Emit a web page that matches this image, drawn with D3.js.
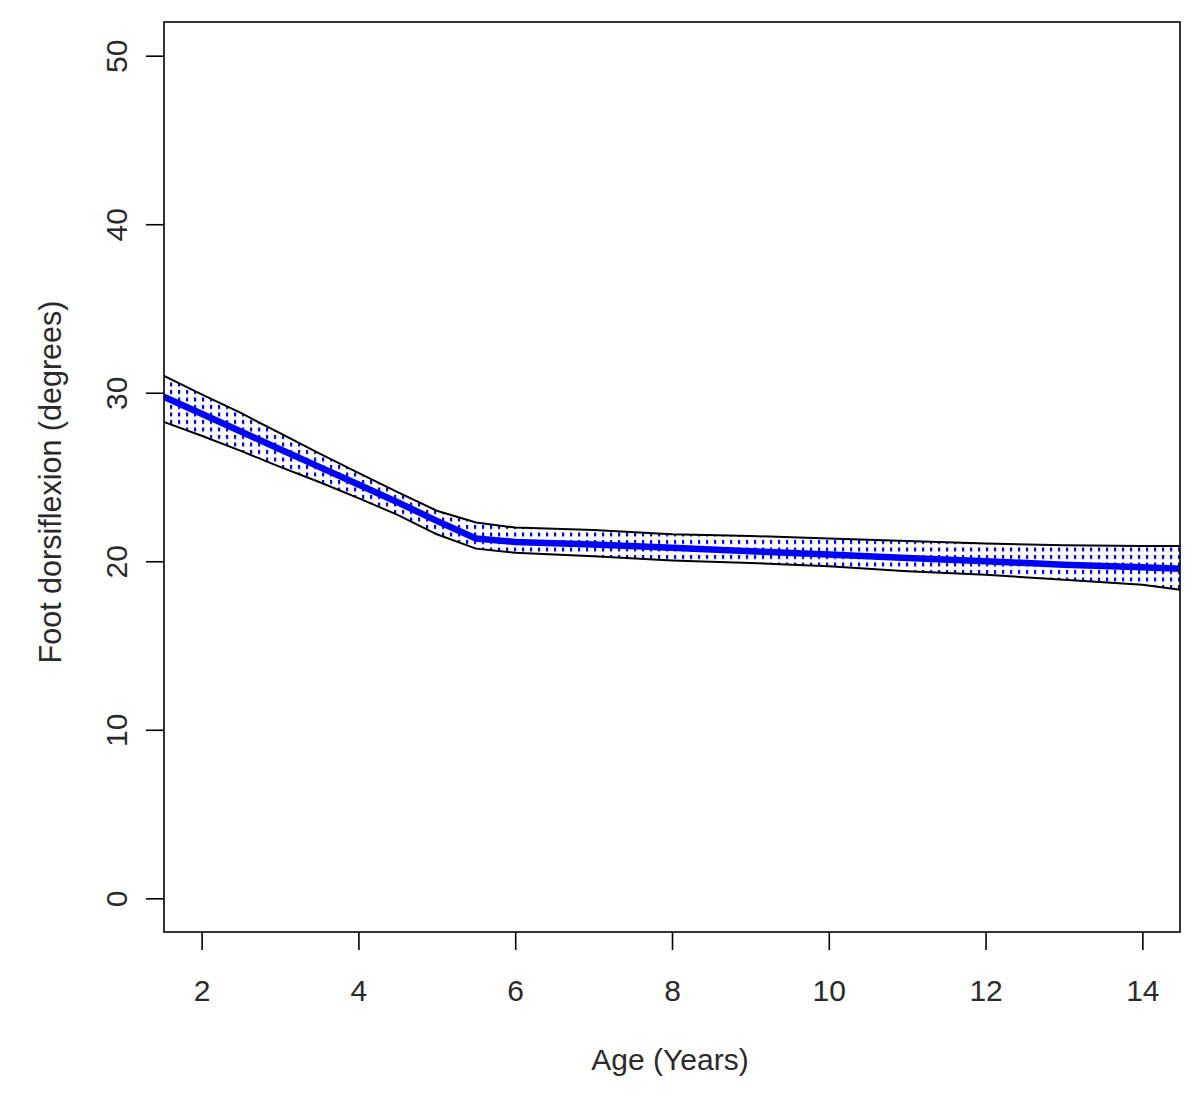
<!DOCTYPE html>
<html>
<head>
<meta charset="utf-8">
<script src="https://cdn.jsdelivr.net/npm/d3@7"></script>
<style>
  html, body { margin: 0; padding: 0; background: #fff; }
  text { font-family: "Liberation Sans", Arial, sans-serif; }
</style>
</head>
<body>
<svg id="chart" width="1200" height="1098"></svg>
<script>
// ---- data ----
const ages      = [1.5, 2, 2.5, 3, 3.5, 4, 4.5, 5, 5.5, 6, 7, 8, 9, 10, 11, 12, 13, 14, 14.5];
const meanVals  = [29.8, 28.75, 27.7, 26.65, 25.6, 24.55, 23.5, 22.4, 21.35, 21.15, 21.0, 20.8, 20.6, 20.4, 20.2, 20.0, 19.8, 19.65, 19.55];
const upperVals = [31.05, 29.9, 28.8, 27.6, 26.4, 25.25, 24.1, 23.0, 22.3, 22.0, 21.85, 21.6, 21.5, 21.35, 21.2, 21.05, 20.95, 20.9, 20.9];
const lowerVals = [28.3, 27.45, 26.55, 25.6, 24.7, 23.75, 22.75, 21.6, 20.75, 20.5, 20.3, 20.05, 19.9, 19.7, 19.4, 19.2, 18.9, 18.6, 18.3];
const xTicks = [2, 4, 6, 8, 10, 12, 14];
const yTicks = [0, 10, 20, 30, 40, 50];
const xLabel = "Age (Years)";
const yLabel = "Foot dorsiflexion (degrees)";

const rows = ages.map((a, i) => ({ age: a, mean: meanVals[i], upper: upperVals[i], lower: lowerVals[i] }));

// ---- layout ----
const L = 164, R = 1180, T = 22, B = 932;
const svg = d3.select("#chart");
const x = d3.scaleLinear().domain([1.52, 14.48]).range([L, R]);
const y = d3.scaleLinear().domain([-2, 52]).range([B, T]);
const textColor = "#2a2a2a";

const defs = svg.append("defs");
defs.append("clipPath").attr("id", "plotClip")
  .append("rect").attr("x", L).attr("y", T).attr("width", R - L).attr("height", B - T);
const pat = defs.append("pattern").attr("id", "hatch")
  .attr("patternUnits", "userSpaceOnUse").attr("width", 8).attr("height", 7.5);
pat.append("rect").attr("x", 2).attr("y", 0).attr("width", 2.2).attr("height", 4).attr("fill", "#0000ff");

const plot = svg.append("g").attr("clip-path", "url(#plotClip)");

// hatched band
plot.append("path").datum(rows)
  .attr("d", d3.area().x(d => x(d.age)).y0(d => y(d.lower)).y1(d => y(d.upper)))
  .attr("fill", "url(#hatch)");

// bounds
["upper", "lower"].forEach(k => {
  plot.append("path").datum(rows)
    .attr("d", d3.line().x(d => x(d.age)).y(d => y(d[k])))
    .attr("fill", "none").attr("stroke", "#000").attr("stroke-width", 2);
});

// mean
plot.append("path").datum(rows)
  .attr("d", d3.line().x(d => x(d.age)).y(d => y(d.mean)))
  .attr("fill", "none").attr("stroke", "#0000ff").attr("stroke-width", 6.5);

// frame
svg.append("rect").attr("x", L).attr("y", T).attr("width", R - L).attr("height", B - T)
  .attr("fill", "none").attr("stroke", "#000").attr("stroke-width", 1.6);

// axes
const xAxis = svg.append("g").attr("transform", `translate(0,${B})`)
  .call(d3.axisBottom(x).tickValues(xTicks).tickSize(18).tickSizeOuter(0).tickFormat(d3.format("d")));
xAxis.select(".domain").remove();
xAxis.selectAll(".tick line").attr("stroke", "#000").attr("stroke-width", 1.6);
xAxis.selectAll(".tick text").attr("y", 69).attr("dy", 0)
  .attr("font-size", 30).attr("fill", textColor)
  .style("font-family", "'Liberation Sans', Arial, sans-serif");

const yAxis = svg.append("g").attr("transform", `translate(${L},0)`)
  .call(d3.axisLeft(y).tickValues(yTicks).tickSize(18).tickSizeOuter(0).tickFormat(d3.format("d")));
yAxis.select(".domain").remove();
yAxis.selectAll(".tick line").attr("stroke", "#000").attr("stroke-width", 1.6);
yAxis.selectAll(".tick text")
  .attr("x", null).attr("dy", 0)
  .attr("transform", "translate(-37,0) rotate(-90)")
  .attr("text-anchor", "middle")
  .attr("font-size", 30).attr("fill", textColor)
  .style("font-family", "'Liberation Sans', Arial, sans-serif");

// axis titles
svg.append("text").attr("x", (L + R) / 2 - 2).attr("y", 1070)
  .attr("text-anchor", "middle").attr("font-size", 30).attr("fill", textColor).text(xLabel);
svg.append("text").attr("transform", `translate(61,${(T + B) / 2 + 5}) rotate(-90)`)
  .attr("text-anchor", "middle").attr("font-size", 30.5).attr("fill", textColor).text(yLabel);
</script>
</body>
</html>
